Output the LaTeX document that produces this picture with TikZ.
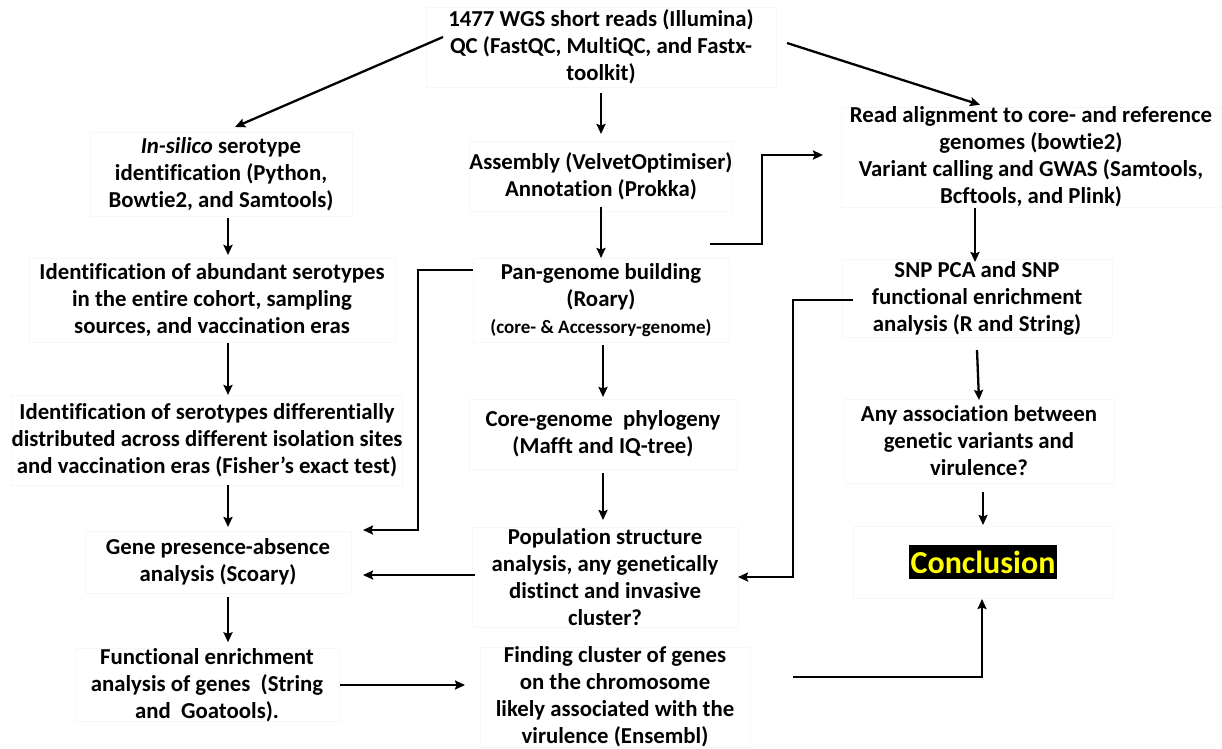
\documentclass[tikz,border=0pt]{standalone}
\usepackage{fontspec}
\setmainfont{Carlito}[Ligatures={NoCommon}]
\usetikzlibrary{arrows.meta,calc}
\begin{document}
\begin{tikzpicture}[x=1pt,y=-1pt,
  txt/.style={draw=black!3, line width=0.5pt, align=center, inner sep=0pt, outer sep=0pt,
    font=\fontsize{22.8}{27}\selectfont\bfseries},
  arr/.style={line width=2.3pt, -{Stealth[length=10pt,width=9pt,inset=1.5pt]}},
]
\useasboundingbox[fill=white] (0,0) rectangle (1222,748);

\node[txt, minimum width=350, minimum height=80] (top) at (601,47)
  {1477 WGS short reads (Illumina)\\QC (FastQC, MultiQC, and Fastx-\\toolkit)};
\node[txt, minimum width=262, minimum height=84] (insilico) at (221,174)
  {\textit{In-silico} serotype\\identification (Python,\\Bowtie2, and Samtools)};
\node[txt, minimum width=366, minimum height=84] (abundant) at (212,300)
  {Identification of abundant serotypes\\in the entire cohort, sampling\\sources, and vaccination eras};
\node[txt, minimum width=390, minimum height=90] (diff) at (207,440)
  {Identification of serotypes differentially\\distributed across different isolation sites\\and vaccination eras (Fisher’s exact test)};
\node[txt, minimum width=266, minimum height=62] (gene) at (218,562)
  {Gene presence-absence\\analysis (Scoary)};
\node[txt, minimum width=264, minimum height=72] (func) at (207,685)
  {Functional enrichment\\analysis of genes\ \ (String\\and\ \ Goatools).};
\node[txt, minimum width=260, minimum height=70] (assembly) at (601,176)
  {Assembly (VelvetOptimiser)\\Annotation (Prokka)};
\node[txt, minimum width=256, minimum height=84] (pan) at (601,300)
  {Pan-genome building\\(Roary)\\{\fontsize{19}{24}\selectfont (core- \& Accessory-genome)}};
\node[txt, minimum width=268, minimum height=70] (core) at (603,434)
  {Core-genome\ \ phylogeny\\(Mafft and IQ-tree)};
\node[txt, minimum width=266, minimum height=100] (pop) at (605,577)
  {Population structure\\analysis, any genetically\\distinct and invasive\\cluster?};
\node[txt, minimum width=270, minimum height=84] (finding) at (615,697)
  {Finding cluster of genes\\on the chromosome\\likely associated with the\\virulence (Ensembl)};
\node[txt, minimum width=380, minimum height=100] (read) at (1031,157)
  {Read alignment to core- and reference\\genomes (bowtie2)\\Variant calling and GWAS (Samtools,\\Bcftools, and Plink)};
\node[txt, minimum width=270, minimum height=78] (snp) at (977,298)
  {SNP PCA and SNP\\functional enrichment\\analysis (R and String)};
\node[txt, minimum width=270, minimum height=84] (assoc) at (979,441)
  {Any association between\\genetic variants and\\virulence?};
\node[txt, minimum width=260, minimum height=72] (conclframe) at (983,562) {};
\node[fill=black, text={rgb,255:red,255;green,255;blue,0}, inner xsep=2pt, inner ysep=6pt,
  font=\fontsize{32}{34}\selectfont\bfseries] (concl) at (983,562) {Conclusion};

% connectors
\draw[arr] ($(top.west)+(17,-10)$) -- ($(insilico.north)+(14,-5)$);
\draw[arr] ($(top.east)+(11,-4)$) -- ($(read.north)+(-51,-2)$);
\draw[arr] ($(top.south)+(0,6)$) -- ($(assembly.north)+(0,-7)$);
\draw[arr] ($(insilico.south)+(7,2)$) -- ($(abundant.north)+(16,-3)$);
\draw[arr] ($(abundant.south)+(16,1)$) -- ($(diff.north)+(21,0)$);
\draw[arr] ($(diff.south)+(21,0)$) -- ($(gene.north)+(10,-4)$);
\draw[arr] ($(gene.south)+(10,4)$) -- ($(func.north)+(21,-6)$);
\draw[arr] ($(assembly.south)+(0,-4)$) -- (pan.north);
\draw[arr] ($(pan.south)+(2,3)$) -- ($(core.north)+(0,-2)$);
\draw[arr] ($(core.south)+(0,4)$) -- ($(pop.north)+(-2,-7)$);
\draw[arr] ($(read.south)+(-56,1)$) -- ($(snp.north)+(-2,3)$);
\draw[arr] ($(snp.south)+(0,13)$) -- ($(assoc.north)+(0,1)$);
\draw[arr] ($(assoc.south)+(4,9)$) -- ($(conclframe.north)+(0,-1)$);
\draw[arr] ($(func.east)+(1,0)$) -- ($(finding.west)+(-15,-12)$);
\draw[arr] ($(pop.west)+(3,-2)$) -- ($(gene.east)+(12,13)$);
\draw[arr] ($(pan.east)+(-19,-56)$) -- ++(52,0) |- ($(read.west)+(-18,-2)$);
\draw[arr] ($(pan.west)+(0,-30)$) -- ++(-55,0) |- ($(gene.east)+(12,-32)$);
\draw[arr] ($(snp.west)+(11,2)$) -- ++(-60,0) |- (pop.east);
\draw[arr] ($(finding.east)+(43,-20)$) -| ($(conclframe.south)+(-1,1)$);
\end{tikzpicture}
\end{document}
